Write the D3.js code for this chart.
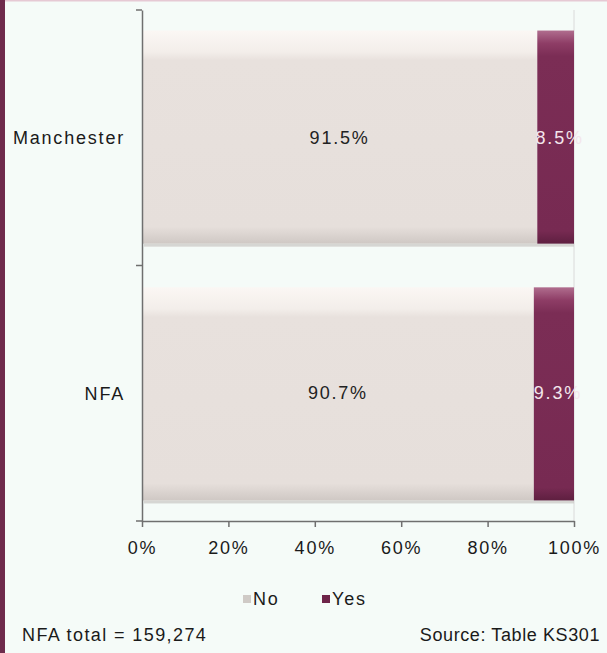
<!DOCTYPE html>
<html><head><meta charset="utf-8">
<script src="https://cdn.jsdelivr.net/npm/d3@7"></script>
<style>
html,body{margin:0;padding:0;background:#f5fbf8;}
svg{display:block;}
text{font-family:"Liberation Sans",Arial,sans-serif;}
</style></head>
<body>
<script>
const categories = ["Manchester", "NFA"];
const seriesNames = ["No", "Yes"];
const noValues = [91.5, 90.7];
const yesValues = [8.5, 9.3];
const tickValues = [0, 20, 40, 60, 80, 100];
const footerLeft = "NFA total = 159,274";
const footerRight = "Source: Table KS301";

const W = 607, H = 653;
const svg = d3.select("body").append("svg").attr("width", W).attr("height", H);
const defs = svg.append("defs");

function grad(id, stops) {
  const g = defs.append("linearGradient").attr("id", id).attr("x1", 0).attr("y1", 0).attr("x2", 0).attr("y2", 1);
  stops.forEach(s => g.append("stop").attr("offset", s[0]).attr("stop-color", s[1]));
}
grad("gNo", [[0, "#fbf7f4"], [0.1, "#f3eeea"], [0.14, "#e8e1dd"], [0.92, "#e6dfdb"], [1, "#cfc8c4"]]);
grad("gYes", [[0, "#b06d8e"], [0.06, "#8e3d66"], [0.12, "#7b2d55"], [0.94, "#772a52"], [1, "#5e1f40"]]);

// frame
svg.append("rect").attr("x", 0).attr("y", 0).attr("width", W).attr("height", H).attr("fill", "#f5fbf8");
svg.append("rect").attr("x", 0).attr("y", 0).attr("width", W).attr("height", 1.5).attr("fill", "#e6c9d4");
svg.append("rect").attr("x", 0).attr("y", 0).attr("width", 5).attr("height", H).attr("fill", "#6e2b4c");

const x = d3.scaleLinear().domain([0, 100]).range([142, 574]);
const y = d3.scaleBand().domain(categories).range([10, 521]).paddingInner(0.17).paddingOuter(0.08);
const band = d3.scaleBand().domain(categories).range([10, 521]);

// faint gridline at 100%
svg.append("line").attr("x1", x(100)).attr("x2", x(100)).attr("y1", 10).attr("y2", 521)
  .attr("stroke", "#dadada").attr("stroke-width", 1);

const data = categories.map((c, i) => ({cat: c, no: noValues[i], yes: yesValues[i]}));

// bar shadows
svg.selectAll("rect.shadow").data(data).join("rect").attr("class", "shadow")
  .attr("x", x(0) + 2).attr("y", d => y(d.cat) + y.bandwidth())
  .attr("width", x(100) - x(0) - 2).attr("height", 3).attr("fill", "#c9c6c3").attr("opacity", 0.7);

svg.selectAll("rect.no").data(data).join("rect").attr("class", "no")
  .attr("x", x(0)).attr("y", d => y(d.cat))
  .attr("width", d => x(d.no) - x(0)).attr("height", y.bandwidth())
  .attr("fill", "url(#gNo)");
svg.selectAll("rect.yes").data(data).join("rect").attr("class", "yes")
  .attr("x", d => x(d.no)).attr("y", d => y(d.cat))
  .attr("width", d => x(d.no + d.yes) - x(d.no)).attr("height", y.bandwidth())
  .attr("fill", "url(#gYes)");

const ls = "1.8px";
// value labels
svg.selectAll("text.lno").data(data).join("text").attr("class", "lno")
  .attr("x", d => (x(0) + x(d.no)) / 2).attr("y", d => band(d.cat) + band.bandwidth() / 2 + 6)
  .attr("text-anchor", "middle").attr("font-size", 18).attr("letter-spacing", ls).attr("fill", "#222")
  .text(d => d.no.toFixed(1) + "%");
svg.selectAll("text.lyes").data(data).join("text").attr("class", "lyes")
  .attr("x", d => (x(d.no) + x(d.no + d.yes)) / 2 + 4).attr("y", d => band(d.cat) + band.bandwidth() / 2 + 6)
  .attr("text-anchor", "middle").attr("font-size", 18).attr("letter-spacing", ls).attr("fill", "#f3e6ec")
  .text(d => d.yes.toFixed(1) + "%");

// y axis
const yAxis = d3.axisLeft(band).tickSize(0).tickPadding(17);
const gy = svg.append("g").attr("transform", `translate(${x(0)},0)`).call(yAxis);
gy.select(".domain").attr("stroke", "#6f6f6f").attr("stroke-width", 1.5);
gy.selectAll("text").attr("font-size", 18).attr("letter-spacing", ls).attr("fill", "#1a1a1a").attr("dy", "0.35em");
[10, band(categories[1]), 521].forEach(v => {
  svg.append("line").attr("x1", x(0) - 6).attr("x2", x(0)).attr("y1", v).attr("y2", v)
    .attr("stroke", "#6f6f6f").attr("stroke-width", 1.5);
});

// x axis
const xAxis = d3.axisBottom(x).tickValues(tickValues).tickFormat(d => d + "%").tickSize(6).tickSizeOuter(0).tickPadding(14);
const gx = svg.append("g").attr("transform", "translate(0,521)").call(xAxis);
gx.select(".domain").attr("stroke", "#6f6f6f").attr("stroke-width", 1.5);
gx.selectAll(".tick line").attr("stroke", "#6f6f6f").attr("stroke-width", 1.5);
gx.selectAll("text").attr("font-size", 18).attr("letter-spacing", ls).attr("fill", "#1a1a1a");

// legend
const legend = svg.append("g");
const legItems = [{name: seriesNames[0], color: "#cfcac6", x: 243}, {name: seriesNames[1], color: "#6e2449", x: 322}];
legItems.forEach(it => {
  legend.append("rect").attr("x", it.x).attr("y", 595).attr("width", 8).attr("height", 8).attr("fill", it.color);
  legend.append("text").attr("x", it.x + 10).attr("y", 605).attr("font-size", 18).attr("letter-spacing", ls)
    .attr("fill", "#1a1a1a").text(it.name);
});

// footer
svg.append("text").attr("x", 22).attr("y", 641).attr("font-size", 18).attr("letter-spacing", "1.4px")
  .attr("fill", "#1a1a1a").text(footerLeft);
svg.append("text").attr("x", 600).attr("y", 641).attr("text-anchor", "end").attr("font-size", 18).attr("letter-spacing", "0.6px")
  .attr("fill", "#1a1a1a").text(footerRight);
</script>
</body></html>
